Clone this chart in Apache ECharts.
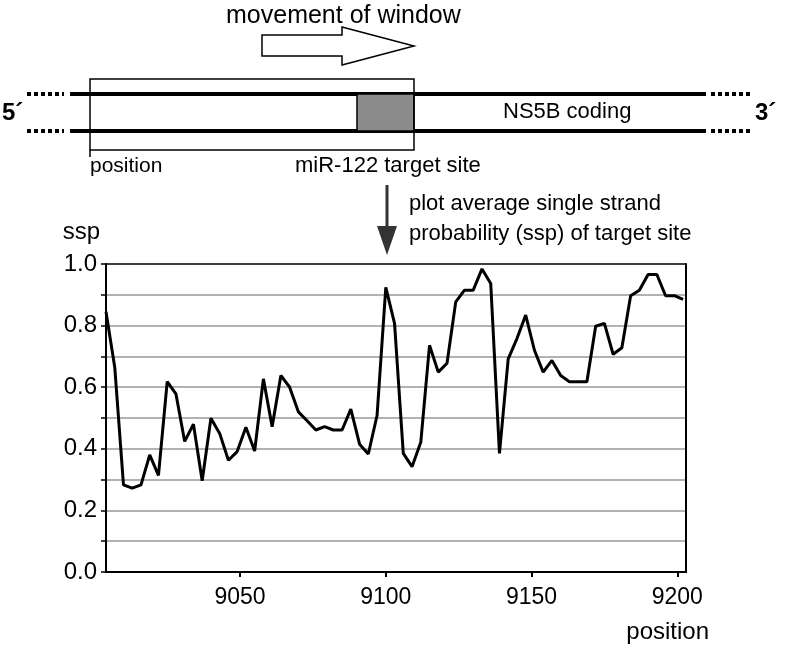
<!DOCTYPE html>
<html>
<head>
<meta charset="utf-8">
<script src="https://cdn.jsdelivr.net/npm/echarts/dist/echarts.min.js"></script>
<style>
html, body { margin: 0; padding: 0; background: #fff; }
#chart { width: 786px; height: 648px; }
</style>
</head>
<body>
<div id="chart"></div>
<script>
// window start position along NS5B
const positions = [
	9004, 9007, 9010, 9013, 9016, 9019, 9022, 9025, 9028, 9031, 9034, 9037, 9040, 9043, 9046, 9049,
	9052, 9055, 9058, 9061, 9064, 9067, 9070, 9073, 9076, 9079, 9082, 9085, 9088, 9091, 9094, 9097,
	9100, 9103, 9106, 9109, 9112, 9115, 9118, 9121, 9124, 9127, 9130, 9133, 9136, 9139, 9142, 9145,
	9148, 9151, 9154, 9157, 9160, 9163, 9166, 9169, 9172, 9175, 9178, 9181, 9184, 9187, 9190, 9193,
	9196, 9199, 9202,
]
// average single strand probability of the target site
const ssp = [
	0.845, 0.665, 0.283, 0.272, 0.283, 0.38, 0.314, 0.618, 0.578, 0.424, 0.48, 0.296, 0.499, 0.45, 0.363, 0.391,
	0.47, 0.393, 0.627, 0.472, 0.638, 0.6, 0.52, 0.491, 0.461, 0.472, 0.461, 0.461, 0.529, 0.415, 0.383, 0.508,
	0.924, 0.807, 0.385, 0.342, 0.421, 0.736, 0.649, 0.678, 0.877, 0.915, 0.915, 0.984, 0.937, 0.385, 0.692, 0.758,
	0.834, 0.72, 0.649, 0.687, 0.638, 0.618, 0.618, 0.618, 0.798, 0.807, 0.707, 0.728, 0.897, 0.915, 0.966, 0.966,
	0.897, 0.897, 0.885,
]
const xTicks = [9050, 9100, 9150, 9200]
const yLabels = ["0.0", "0.2", "0.4", "0.6", "0.8", "1.0"]

const font = "'Liberation Sans', Arial, sans-serif"
const gridColors = ["#000", "#999", "#999", "#999", "#999", "#999", "#999", "#999", "#999", "#999", "#000"]

// text anchored at its left edge, vertically centred on y
const txt = (text, x, y, size, extra) => ({
	type: "text",
	x,
	y,
	style: Object.assign({ text, fontFamily: font, fontSize: size, fill: "#000", align: "left", verticalAlign: "middle" }, extra || {}),
})
const strand = (x1, x2, y, dash) => ({
	type: "line",
	shape: { x1, y1: y, x2, y2: y },
	style: { stroke: "#000", lineWidth: 4, lineDash: dash ? [4, 3] : null },
})

// schematic above the plot
const diagram = [
	txt("movement of window", 226, 16, 25),
	{
		type: "polygon",
		shape: { points: [[262, 35], [342, 35], [342, 27], [414, 46], [342, 65], [342, 56], [262, 56]] },
		style: { fill: "#fff", stroke: "#000", lineWidth: 1.5 },
	},
	strand(70, 706, 94),
	strand(70, 706, 131),
	strand(27, 64, 94, true),
	strand(27, 64, 131, true),
	strand(711, 750, 94, true),
	strand(711, 750, 131, true),
	{ type: "rect", shape: { x: 357, y: 94, width: 57, height: 37 }, style: { fill: "#8c8c8c", stroke: "#000", lineWidth: 1.5 } },
	{ type: "rect", shape: { x: 90, y: 79, width: 324, height: 71 }, style: { fill: "none", stroke: "#000", lineWidth: 1.5 } },
	{ type: "line", shape: { x1: 90, y1: 150, x2: 90, y2: 157 }, style: { stroke: "#000", lineWidth: 1.5 } },
	txt("5\u00b4", 2, 113, 24, { fontWeight: "bold" }),
	txt("3\u00b4", 755, 113, 24, { fontWeight: "bold" }),
	txt("NS5B coding", 503, 112, 22),
	txt("position", 90, 166, 21),
	txt("miR-122 target site", 295, 166, 22),
	{ type: "line", shape: { x1: 387, y1: 185, x2: 387, y2: 230 }, style: { stroke: "#333", lineWidth: 3 } },
	{
		type: "polygon",
		shape: { points: [[377, 226], [397, 226], [387, 255]] },
		style: { fill: "#333" },
	},
	txt("plot average single strand", 409, 204, 22),
	txt("probability (ssp) of target site", 409, 234, 22),
]

const chart = echarts.init(document.getElementById("chart"), null, { renderer: "canvas" })
chart.setOption({
	animation: false,
	textStyle: { fontFamily: font },
	grid: { left: 106, right: 100, top: 264, bottom: 76 },
	xAxis: {
		type: "value",
		min: positions[0],
		max: 9203,
		name: "position",
		nameLocation: "end",
		nameGap: 23,
		nameTextStyle: { color: "#000", fontSize: 24, align: "right", verticalAlign: "top", padding: [48, 0, 0, 0] },
		axisLine: { lineStyle: { color: "#000", width: 2 } },
		axisTick: { show: true, length: 5, lineStyle: { color: "#000", width: 2 }, customValues: xTicks },
		axisLabel: { color: "#000", fontSize: 23, margin: 14, customValues: xTicks, formatter: v => String(v) },
		splitLine: { show: false },
	},
	yAxis: [
		{
			type: "value",
			min: 0,
			max: 1,
			interval: 0.1,
			name: "ssp",
			nameLocation: "end",
			nameGap: 32,
			nameTextStyle: { color: "#000", fontSize: 24, align: "right", verticalAlign: "middle", padding: [0, 6, 0, 0] },
			axisLine: { show: true, lineStyle: { color: "#000", width: 2 } },
			axisTick: { show: true, length: 5, lineStyle: { color: "#000", width: 1.5 } },
			axisLabel: {
				color: "#000",
				fontSize: 24,
				margin: 9,
				formatter: v => {
					const k = Math.round(v * 10)
					return k % 2 === 0 ? yLabels[k / 2] : ""
				},
			},
			splitLine: { show: true, lineStyle: { color: gridColors, width: 1.5 } },
		},
		{
			type: "value",
			position: "right",
			min: 0,
			max: 1,
			axisLine: { show: true, lineStyle: { color: "#000", width: 2 } },
			axisTick: { show: false },
			axisLabel: { show: false },
			splitLine: { show: false },
		},
	],
	series: [
		{
			type: "line",
			data: positions.map((p, i) => [p, ssp[i]]),
			showSymbol: false,
			lineStyle: { color: "#000", width: 3 },
			z: 5,
		},
	],
	graphic: diagram,
})
</script>
</body>
</html>
